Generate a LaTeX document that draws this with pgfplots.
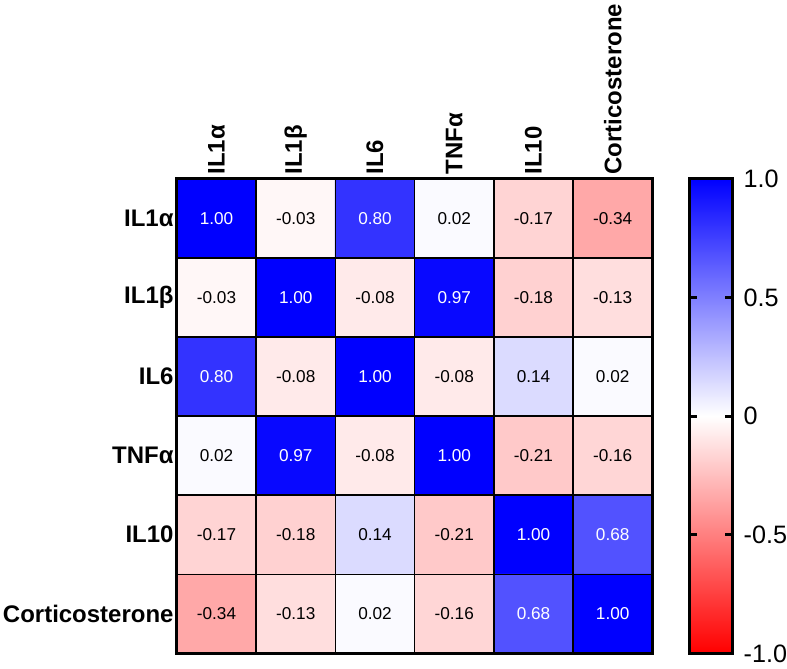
\documentclass[border=0pt]{standalone}
\usepackage{fontspec}
\setmainfont{Liberation Sans}
\usepackage{pgfplots}
\usepackage{pgfplotstable}
\pgfplotsset{compat=1.18}

% x = column, y = row (0 = top), v = correlation
\pgfplotstableread{
x y v
0 0 1.00
1 0 -0.03
2 0 0.80
3 0 0.02
4 0 -0.17
5 0 -0.34
0 1 -0.03
1 1 1.00
2 1 -0.08
3 1 0.97
4 1 -0.18
5 1 -0.13
0 2 0.80
1 2 -0.08
2 2 1.00
3 2 -0.08
4 2 0.14
5 2 0.02
0 3 0.02
1 3 0.97
2 3 -0.08
3 3 1.00
4 3 -0.21
5 3 -0.16
0 4 -0.17
1 4 -0.18
2 4 0.14
3 4 -0.21
4 4 1.00
5 4 0.68
0 5 -0.34
1 5 -0.13
2 5 0.02
3 5 -0.16
4 5 0.68
5 5 1.00
}\corr

\pgfplotsset{
  colormap={rwb}{rgb=(1,0,0) rgb=(1,1,1) rgb=(0,0,1)},
}

\begin{document}
\begin{tikzpicture}
\begin{axis}[
  name=main,
  scale only axis, width=238pt, height=237.5pt,
  xmin=-0.5, xmax=5.5, ymin=-0.5, ymax=5.5, y dir=reverse,
  enlargelimits=false,
  colormap name=rwb,
  point meta min=-1, point meta max=1,
  xtick={0,...,5}, ytick={0,...,5},
  xticklabels={IL1α,IL1β,IL6,TNFα,IL10,Corticosterone},
  yticklabels={IL1α,IL1β,IL6,TNFα,IL10,Corticosterone},
  xticklabel pos=right,
  xticklabel style={rotate=90, anchor=west, inner xsep=2pt, font=\fontsize{12}{13}\selectfont\bfseries},
  yticklabel style={inner xsep=1.5pt, font=\fontsize{12}{13}\selectfont\bfseries},
  major tick length=0pt, minor tick length=0pt,
  minor xtick={0.5,1.5,...,4.5}, minor ytick={0.5,1.5,...,4.5},
  minor grid style={black, line width=0.75pt},
  xminorgrids, yminorgrids,
  axis line style={line width=1.5pt},
  axis on top,
]
\addplot[matrix plot*, mesh/cols=6, point meta=explicit] table[x=x, y=y, meta=v] {\corr};
\addplot[draw=none, mark=none, point meta=explicit symbolic,
  visualization depends on={abs(\thisrow{v}) \as \av},
  nodes near coords={\ifdim\av pt>0.5pt\color{white}\fi\pgfplotspointmeta},
  nodes near coords style={anchor=center, font=\fontsize{8.6}{10}\selectfont}]
  table[x=x, y=y, meta=v] {\corr};
\end{axis}

% colour scale
\begin{axis}[
  at={(main.north east)}, anchor=north west, xshift=18.5pt,
  scale only axis, width=21.5pt, height=237.5pt,
  xmin=0, xmax=1, ymin=-1, ymax=1,
  enlargelimits=false,
  colormap name=rwb,
  point meta min=-1, point meta max=1,
  xtick=\empty,
  ytick={-1,-0.5,0,0.5,1},
  yticklabels={-1.0,-0.5,0,0.5,1.0},
  yticklabel pos=right,
  major tick length=0pt,
  yticklabel style={font=\fontsize{12.6}{14}\selectfont, inner xsep=0pt, xshift=5.5pt},
  axis line style={line width=1.5pt},
  axis on top,
]
\addplot[surf, shader=interp, mesh/cols=2, point meta=y]
  coordinates {(0,-1) (1,-1)

               (0,0) (1,0)

               (0,1) (1,1)};
\pgfplotsinvokeforeach{-0.5,0,0.5}{
  \draw[line width=1.4pt] (axis cs:0,#1) -- ++(3.8pt,0pt);
  \draw[line width=1.4pt] (axis cs:1,#1) -- ++(-3.8pt,0pt);
}
\end{axis}
\end{tikzpicture}
\end{document}
